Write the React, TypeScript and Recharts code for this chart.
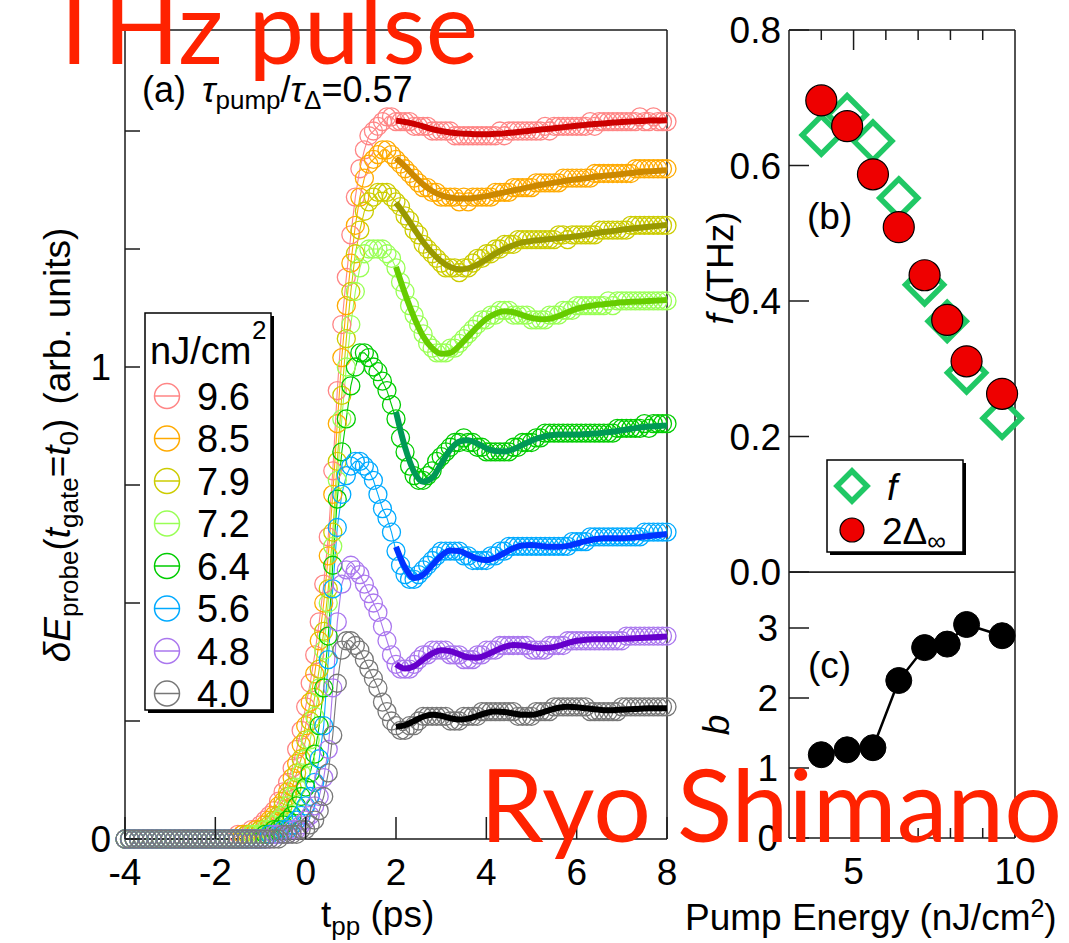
import React from 'react';
import { ComposedChart, Line, Scatter, XAxis, YAxis, ReferenceLine } from 'recharts';

const FONT = '"Liberation Sans", Arial, Helvetica, sans-serif';
const INK = '#1a1a1a';
const RED_TEXT = '#ff2200';

// pump-probe delay grid (ps), one point every 0.1 ps
const times = [
  -4, -3.9, -3.8, -3.7, -3.6, -3.5, -3.4, -3.3, -3.2, -3.1,
  -3, -2.9, -2.8, -2.7, -2.6, -2.5, -2.4, -2.3, -2.2, -2.1,
  -2, -1.9, -1.8, -1.7, -1.6, -1.5, -1.4, -1.3, -1.2, -1.1,
  -1, -0.9, -0.8, -0.7, -0.6, -0.5, -0.4, -0.3, -0.2, -0.1,
  0, 0.1, 0.2, 0.3, 0.4, 0.5, 0.6, 0.7, 0.8, 0.9,
  1, 1.1, 1.2, 1.3, 1.4, 1.5, 1.6, 1.7, 1.8, 1.9,
  2, 2.1, 2.2, 2.3, 2.4, 2.5, 2.6, 2.7, 2.8, 2.9,
  3, 3.1, 3.2, 3.3, 3.4, 3.5, 3.6, 3.7, 3.8, 3.9,
  4, 4.1, 4.2, 4.3, 4.4, 4.5, 4.6, 4.7, 4.8, 4.9,
  5, 5.1, 5.2, 5.3, 5.4, 5.5, 5.6, 5.7, 5.8, 5.9,
  6, 6.1, 6.2, 6.3, 6.4, 6.5, 6.6, 6.7, 6.8, 6.9,
  7, 7.1, 7.2, 7.3, 7.4, 7.5, 7.6, 7.7, 7.8, 7.9,
  8,
];

// fit curves are sampled every 0.2 ps from 2 to 8 ps
const fitTimes = [
  2, 2.2, 2.4, 2.6, 2.8, 3, 3.2, 3.4, 3.6, 3.8,
  4, 4.2, 4.4, 4.6, 4.8, 5, 5.2, 5.4, 5.6, 5.8,
  6, 6.2, 6.4, 6.6, 6.8, 7, 7.2, 7.4, 7.6, 7.8,
  8,
];

const z20 = [0, 0, 0, 0, 0, 0, 0, 0, 0, 0, 0, 0, 0, 0, 0, 0, 0, 0, 0, 0];

const data96 = [
  ...z20,
  0, 0, 0, 0, 0, 0.01, 0.01, 0.01, 0.02, 0.02,
  0.03, 0.04, 0.05, 0.06, 0.08, 0.1, 0.12, 0.15, 0.19, 0.23,
  0.28, 0.33, 0.39, 0.46, 0.54, 0.64, 0.78, 0.95, 1.09, 1.19,
  1.28, 1.36, 1.42, 1.46, 1.49, 1.5, 1.51, 1.52, 1.53, 1.53,
  1.52, 1.52, 1.52, 1.52, 1.51, 1.51, 1.51, 1.51, 1.5, 1.5,
  1.5, 1.5, 1.5, 1.49, 1.49, 1.49, 1.49, 1.49, 1.49, 1.49,
  1.49, 1.49, 1.49, 1.5, 1.49, 1.5, 1.5, 1.5, 1.5, 1.5,
  1.5, 1.5, 1.5, 1.51, 1.5, 1.51, 1.51, 1.51, 1.51, 1.51,
  1.51, 1.51, 1.51, 1.52, 1.51, 1.52, 1.52, 1.52, 1.52, 1.52,
  1.52, 1.52, 1.52, 1.52, 1.53, 1.52, 1.52, 1.53, 1.52, 1.52,
  1.52,
];
const data85 = [
  ...z20,
  0, 0, 0, 0, 0, 0, 0.01, 0.01, 0.01, 0.02,
  0.02, 0.03, 0.04, 0.05, 0.07, 0.08, 0.1, 0.13, 0.16, 0.2,
  0.24, 0.29, 0.35, 0.42, 0.5, 0.6, 0.73, 0.88, 1.02, 1.13,
  1.22, 1.3, 1.36, 1.4, 1.43, 1.44, 1.45, 1.46, 1.46, 1.45,
  1.44, 1.43, 1.42, 1.41, 1.4, 1.39, 1.38, 1.38, 1.37, 1.37,
  1.36, 1.36, 1.36, 1.36, 1.35, 1.36, 1.35, 1.36, 1.36, 1.36,
  1.36, 1.36, 1.37, 1.37, 1.37, 1.37, 1.38, 1.38, 1.38, 1.38,
  1.38, 1.39, 1.39, 1.39, 1.39, 1.39, 1.39, 1.4, 1.4, 1.4,
  1.4, 1.4, 1.4, 1.4, 1.41, 1.41, 1.41, 1.41, 1.41, 1.41,
  1.41, 1.41, 1.41, 1.42, 1.42, 1.42, 1.42, 1.42, 1.42, 1.42,
  1.42,
];
const data79 = [
  ...z20,
  0, 0, 0, 0, 0, 0, 0, 0.01, 0.01, 0.01,
  0.02, 0.02, 0.03, 0.04, 0.05, 0.07, 0.09, 0.11, 0.14, 0.17,
  0.21, 0.25, 0.3, 0.36, 0.44, 0.53, 0.65, 0.8, 0.94, 1.06,
  1.16, 1.24, 1.29, 1.33, 1.35, 1.36, 1.37, 1.37, 1.37, 1.36,
  1.35, 1.34, 1.32, 1.31, 1.29, 1.28, 1.26, 1.25, 1.24, 1.23,
  1.22, 1.21, 1.21, 1.21, 1.2, 1.21, 1.21, 1.22, 1.23, 1.23,
  1.24, 1.24, 1.25, 1.25, 1.26, 1.26, 1.26, 1.27, 1.27, 1.27,
  1.27, 1.27, 1.27, 1.27, 1.27, 1.27, 1.28, 1.28, 1.27, 1.28,
  1.28, 1.28, 1.28, 1.28, 1.28, 1.29, 1.29, 1.29, 1.29, 1.29,
  1.29, 1.29, 1.3, 1.3, 1.3, 1.3, 1.3, 1.3, 1.3, 1.3,
  1.3,
];
const data72 = [
  ...z20,
  0, 0, 0, 0, 0, 0, 0, 0, 0.01, 0.01,
  0.01, 0.02, 0.02, 0.03, 0.04, 0.05, 0.07, 0.09, 0.11, 0.14,
  0.17, 0.21, 0.26, 0.32, 0.4, 0.5, 0.62, 0.76, 0.89, 1,
  1.09, 1.16, 1.21, 1.24, 1.25, 1.25, 1.25, 1.25, 1.24, 1.23,
  1.21, 1.18, 1.16, 1.13, 1.11, 1.09, 1.07, 1.05, 1.04, 1.03,
  1.03, 1.03, 1.04, 1.04, 1.05, 1.06, 1.07, 1.08, 1.09, 1.1,
  1.1, 1.11, 1.11, 1.12, 1.12, 1.12, 1.11, 1.11, 1.11, 1.11,
  1.1, 1.1, 1.1, 1.1, 1.11, 1.11, 1.11, 1.12, 1.12, 1.12,
  1.13, 1.13, 1.13, 1.13, 1.13, 1.13, 1.13, 1.14, 1.13, 1.14,
  1.14, 1.14, 1.14, 1.14, 1.14, 1.14, 1.14, 1.14, 1.14, 1.14,
  1.14,
];
const data64 = [
  ...z20,
  0, 0, 0, 0, 0, 0, 0, 0, 0, 0,
  0, 0.01, 0.01, 0.02, 0.02, 0.03, 0.04, 0.05, 0.07, 0.09,
  0.11, 0.14, 0.18, 0.24, 0.32, 0.43, 0.58, 0.72, 0.82, 0.89,
  0.96, 1, 1.03, 1.03, 1.02, 1, 0.99, 0.97, 0.95, 0.92,
  0.89, 0.85, 0.82, 0.79, 0.77, 0.76, 0.76, 0.77, 0.78, 0.8,
  0.81, 0.82, 0.83, 0.84, 0.84, 0.85, 0.84, 0.84, 0.83, 0.83,
  0.82, 0.82, 0.82, 0.82, 0.82, 0.82, 0.83, 0.83, 0.84, 0.84,
  0.84, 0.85, 0.85, 0.86, 0.86, 0.86, 0.86, 0.86, 0.86, 0.86,
  0.86, 0.86, 0.86, 0.86, 0.86, 0.86, 0.86, 0.86, 0.86, 0.87,
  0.87, 0.87, 0.87, 0.87, 0.87, 0.88, 0.87, 0.88, 0.88, 0.88,
  0.88,
];
const data56 = [
  ...z20,
  0, 0, 0, 0, 0, 0, 0, 0, 0, 0,
  0, 0, 0.01, 0.01, 0.01, 0.02, 0.02, 0.03, 0.04, 0.05,
  0.07, 0.09, 0.12, 0.17, 0.24, 0.38, 0.53, 0.66, 0.73, 0.77,
  0.79, 0.8, 0.8, 0.79, 0.78, 0.76, 0.73, 0.7, 0.68, 0.65,
  0.61, 0.58, 0.56, 0.55, 0.55, 0.56, 0.57, 0.58, 0.59, 0.6,
  0.61, 0.61, 0.61, 0.61, 0.61, 0.6, 0.6, 0.59, 0.59, 0.59,
  0.59, 0.6, 0.6, 0.61, 0.61, 0.62, 0.62, 0.62, 0.62, 0.62,
  0.62, 0.62, 0.62, 0.62, 0.62, 0.62, 0.62, 0.62, 0.62, 0.63,
  0.63, 0.63, 0.63, 0.64, 0.64, 0.64, 0.64, 0.64, 0.64, 0.64,
  0.64, 0.64, 0.64, 0.64, 0.64, 0.65, 0.65, 0.65, 0.65, 0.65,
  0.65,
];
const data48 = [
  ...z20,
  0, 0, 0, 0, 0, 0, 0, 0, 0, 0,
  0, 0, 0, 0.01, 0.01, 0.01, 0.01, 0.02, 0.02, 0.03,
  0.04, 0.05, 0.07, 0.09, 0.13, 0.19, 0.32, 0.46, 0.54, 0.57,
  0.58, 0.57, 0.56, 0.54, 0.52, 0.5, 0.48, 0.45, 0.42, 0.39,
  0.37, 0.36, 0.36, 0.36, 0.37, 0.38, 0.39, 0.39, 0.4, 0.4,
  0.4, 0.4, 0.39, 0.39, 0.39, 0.38, 0.38, 0.38, 0.39, 0.39,
  0.4, 0.4, 0.4, 0.41, 0.41, 0.41, 0.41, 0.41, 0.41, 0.41,
  0.4, 0.4, 0.4, 0.4, 0.41, 0.41, 0.41, 0.41, 0.42, 0.42,
  0.42, 0.42, 0.42, 0.42, 0.42, 0.42, 0.42, 0.42, 0.42, 0.42,
  0.42, 0.43, 0.43, 0.43, 0.43, 0.43, 0.43, 0.43, 0.43, 0.43,
  0.43,
];
const data40 = [
  ...z20,
  0, 0, 0, 0, 0, 0, 0, 0, 0, 0,
  0, 0, 0, 0, 0, 0.01, 0.01, 0.01, 0.01, 0.02,
  0.02, 0.03, 0.04, 0.06, 0.09, 0.14, 0.22, 0.33, 0.4, 0.42,
  0.42, 0.41, 0.4, 0.38, 0.36, 0.34, 0.32, 0.29, 0.27, 0.25,
  0.24, 0.23, 0.23, 0.24, 0.24, 0.25, 0.26, 0.26, 0.26, 0.26,
  0.26, 0.26, 0.25, 0.25, 0.25, 0.26, 0.26, 0.26, 0.26, 0.27,
  0.27, 0.27, 0.27, 0.27, 0.27, 0.27, 0.27, 0.26, 0.26, 0.26,
  0.26, 0.27, 0.27, 0.27, 0.27, 0.28, 0.28, 0.28, 0.28, 0.28,
  0.28, 0.28, 0.28, 0.27, 0.27, 0.27, 0.27, 0.27, 0.27, 0.27,
  0.28, 0.28, 0.28, 0.28, 0.28, 0.28, 0.28, 0.28, 0.28, 0.28,
  0.28,
];

const fit96 = [
  1.522, 1.519, 1.515, 1.51, 1.504, 1.5, 1.497, 1.495, 1.494, 1.493,
  1.493, 1.494, 1.495, 1.497, 1.499, 1.501, 1.503, 1.505, 1.507, 1.509,
  1.511, 1.513, 1.515, 1.516, 1.518, 1.519, 1.52, 1.521, 1.522, 1.522,
  1.523,
];
const fit85 = [
  1.442, 1.425, 1.405, 1.387, 1.373, 1.364, 1.359, 1.357, 1.357, 1.359,
  1.362, 1.366, 1.37, 1.374, 1.378, 1.382, 1.386, 1.389, 1.392, 1.395,
  1.398, 1.4, 1.403, 1.405, 1.407, 1.409, 1.411, 1.413, 1.414, 1.416,
  1.417,
];
const fit79 = [
  1.348, 1.322, 1.293, 1.265, 1.242, 1.224, 1.212, 1.207, 1.209, 1.217,
  1.228, 1.24, 1.25, 1.258, 1.264, 1.267, 1.269, 1.271, 1.273, 1.275,
  1.277, 1.28, 1.283, 1.286, 1.288, 1.291, 1.293, 1.295, 1.297, 1.299,
  1.301,
];
const fit72 = [
  1.212, 1.155, 1.105, 1.065, 1.04, 1.028, 1.03, 1.045, 1.065, 1.085,
  1.102, 1.113, 1.118, 1.116, 1.11, 1.104, 1.101, 1.102, 1.108, 1.116,
  1.123, 1.128, 1.131, 1.133, 1.135, 1.137, 1.138, 1.139, 1.14, 1.141,
  1.142,
];
const fit64 = [
  0.905, 0.83, 0.778, 0.757, 0.765, 0.795, 0.825, 0.842, 0.845, 0.838,
  0.828, 0.822, 0.821, 0.826, 0.835, 0.844, 0.851, 0.855, 0.857, 0.857,
  0.857, 0.858, 0.859, 0.861, 0.863, 0.866, 0.869, 0.872, 0.874, 0.875,
  0.876,
];
const fit56 = [
  0.619, 0.575, 0.553, 0.56, 0.58, 0.6, 0.611, 0.61, 0.602, 0.594,
  0.591, 0.596, 0.606, 0.616, 0.622, 0.623, 0.621, 0.619, 0.619, 0.621,
  0.626, 0.631, 0.635, 0.637, 0.637, 0.637, 0.638, 0.64, 0.642, 0.644,
  0.646,
];
const fit48 = [
  0.37, 0.361, 0.366, 0.38, 0.393, 0.4, 0.398, 0.391, 0.385, 0.384,
  0.39, 0.399, 0.407, 0.411, 0.41, 0.406, 0.404, 0.405, 0.409, 0.415,
  0.42, 0.422, 0.423, 0.423, 0.423, 0.424, 0.425, 0.426, 0.427, 0.428,
  0.429,
];
const fit40 = [
  0.238, 0.241, 0.25, 0.259, 0.263, 0.261, 0.256, 0.253, 0.255, 0.261,
  0.267, 0.27, 0.269, 0.266, 0.263, 0.263, 0.267, 0.273, 0.278, 0.28,
  0.279, 0.277, 0.275, 0.273, 0.273, 0.274, 0.275, 0.276, 0.277, 0.277,
  0.277,
];

const fluences = ['9.6', '8.5', '7.9', '7.2', '6.4', '5.6', '4.8', '4.0'];
const traceValues = [data96, data85, data79, data72, data64, data56, data48, data40];
const fitValues = [fit96, fit85, fit79, fit72, fit64, fit56, fit48, fit40];
const dotColors = ['#ff8585', '#ffaa00', '#cccc00', '#99ff55', '#00cc00', '#00aaff', '#aa77ee', '#777777'];
const fitColors = ['#cc0000', '#cc8800', '#999900', '#66cc00', '#009955', '#0033ff', '#6600cc', '#000000'];

// panels (b) and (c)
const energies = [4.0, 4.8, 5.6, 6.4, 7.2, 7.9, 8.5, 9.6];
const freqF = [0.645, 0.675, 0.636, 0.552, 0.424, 0.37, 0.294, 0.227];
const gap2D = [0.696, 0.658, 0.587, 0.509, 0.438, 0.372, 0.311, 0.263];
const bExp = [1.19, 1.26, 1.29, 2.25, 2.72, 2.77, 3.05, 2.89];

const tTicks = [-4, -2, 0, 2, 4, 6, 8];
const aTicks = [0, 0.25, 0.5, 0.75, 1, 1.25, 1.5];
const fTicks = [0, 0.2, 0.4, 0.6, 0.8];
const bTicks = [0, 1, 2, 3];
const eTicks = [4, 5, 6, 7, 8, 9, 10];

const traces = traceValues.map((vals) => vals.map((v, j) => ({ t: times[j], v })));
const fits = fitValues.map((vals) => vals.map((v, j) => ({ t: fitTimes[j], v })));
const fData = energies.map((e, i) => ({ e, v: freqF[i] }));
const gData = energies.map((e, i) => ({ e, v: gap2D[i] }));
const bData = energies.map((e, i) => ({ e, v: bExp[i] }));

const txt = { fontFamily: FONT, fill: '#000' };

// ---- tick renderers (ticks point inward) ----
const TickABottom = ({ x, y, payload }: any) => (
  <g>
    <line x1={x} x2={x} y1={y} y2={y - 22} stroke={INK} strokeWidth={1.5} />
    <text x={x} y={y + 46} textAnchor="middle" fontSize={37} {...txt}>{payload.value}</text>
  </g>
);
const TickATop = ({ x, y }: any) => (
  <line x1={x} x2={x} y1={y} y2={y + 22} stroke={INK} strokeWidth={1.5} />
);
const TickALeft = ({ x, y, payload }: any) => (
  <g>
    <line x1={x} x2={x + 15} y1={y} y2={y} stroke={INK} strokeWidth={1.5} />
    {(payload.value === 0 || payload.value === 1) && (
      <text x={x - 14} y={y + 13} textAnchor="end" fontSize={37} {...txt}>{payload.value}</text>
    )}
  </g>
);
const TickBLeft = ({ x, y, payload }: any) => (
  <g>
    <line x1={x} x2={x + 20} y1={y} y2={y} stroke={INK} strokeWidth={1.5} />
    <text x={x - 8} y={y + 13} textAnchor="end" fontSize={37} {...txt}>{payload.value.toFixed(1)}</text>
  </g>
);
const TickRight = ({ x, y }: any) => (
  <line x1={x} x2={x - 20} y1={y} y2={y} stroke={INK} strokeWidth={1.5} />
);
const TickBTop = ({ x, y, payload }: any) => (
  <line x1={x} x2={x} y1={y} y2={y + (payload.value === 5 ? 20 : 10)} stroke={INK} strokeWidth={1.5} />
);
const TickCLeft = ({ x, y, payload }: any) => (
  <g>
    <line x1={x} x2={x + 20} y1={y} y2={y} stroke={INK} strokeWidth={1.5} />
    <text x={x - 11} y={y + 13} textAnchor="end" fontSize={37} {...txt}>{payload.value}</text>
  </g>
);
const TickCBottom = ({ x, y, payload }: any) => {
  const major = payload.value === 5 || payload.value === 10;
  return (
    <g>
      <line x1={x} x2={x} y1={y} y2={y - (major ? 20 : 10)} stroke={INK} strokeWidth={1.5} />
      {major && <text x={x} y={y + 46} textAnchor="middle" fontSize={37} {...txt}>{payload.value}</text>}
    </g>
  );
};
const NoTick = () => <g />;

const Diamond = ({ cx, cy, h = 19 }: any) => (
  <path
    d={`M${cx},${cy - h} L${cx + h},${cy} L${cx},${cy + h} L${cx - h},${cy} Z`}
    fill="none"
    stroke="#20c865"
    strokeWidth={5.5}
  />
);
const RedDot = ({ cx, cy }: any) => (
  <circle cx={cx} cy={cy} r={15.5} fill="#ee0000" stroke="#000" strokeWidth={1.2} />
);
const hollowDot = (color: string) => (p: any) => (
  <circle key={p.index} cx={p.cx} cy={p.cy} r={9} fill="none" stroke={color} strokeWidth={1.3} />
);

const axisLine = { stroke: INK, strokeWidth: 1.5 };

export default function App() {
  const aMargin = { top: 0, right: 32, bottom: 0, left: 0 };
  return (
    <div style={{ position: 'absolute', left: 0, top: 0, width: 1069, height: 943, background: '#fff' }}>
      {/* panel (a): measured traces */}
      <div style={{ position: 'absolute', left: 0, top: 0 }}>
        <ComposedChart width={700} height={943} margin={aMargin}>
          <XAxis xAxisId="b" type="number" dataKey="t" domain={[-4, 8]} ticks={tTicks} interval={0}
            orientation="bottom" height={104} tickSize={0} tickMargin={0} tickLine={false}
            axisLine={axisLine} tick={<TickABottom />} />
          <XAxis xAxisId="t" type="number" dataKey="t" domain={[-4, 8]} ticks={tTicks} interval={0}
            orientation="top" height={30} tickSize={0} tickMargin={0} tickLine={false}
            axisLine={axisLine} tick={<TickATop />} />
          <YAxis yAxisId="l" type="number" domain={[0, 1.714]} ticks={aTicks} interval={0}
            width={125} tickSize={0} tickMargin={0} tickLine={false} axisLine={axisLine} tick={<TickALeft />} />
          <YAxis yAxisId="r" orientation="right" type="number" domain={[0, 1.714]} ticks={[]}
            width={1} tickSize={0} tickLine={false} axisLine={axisLine} tick={false} />
          {traces.map((d, i) => (
            <Line key={'d' + i} xAxisId="b" yAxisId="l" data={d} dataKey="v" type="linear"
              stroke={dotColors[i]} strokeWidth={1.1} dot={hollowDot(dotColors[i])}
              activeDot={false} isAnimationActive={false} />
          ))}
        </ComposedChart>
      </div>

      {/* panel (a): fitted curves, same axes, drawn above the traces */}
      <div style={{ position: 'absolute', left: 0, top: 0 }}>
        <ComposedChart width={700} height={943} margin={aMargin}>
          <XAxis xAxisId="b" type="number" dataKey="t" domain={[-4, 8]} ticks={tTicks}
            orientation="bottom" height={104} axisLine={false} tickLine={false} tick={<NoTick />} />
          <XAxis xAxisId="t" type="number" dataKey="t" domain={[-4, 8]} ticks={tTicks}
            orientation="top" height={30} axisLine={false} tickLine={false} tick={<NoTick />} />
          <YAxis yAxisId="l" type="number" domain={[0, 1.714]} ticks={aTicks}
            width={125} axisLine={false} tickLine={false} tick={<NoTick />} />
          <YAxis yAxisId="r" orientation="right" type="number" domain={[0, 1.714]} ticks={[]}
            width={1} axisLine={false} tickLine={false} tick={false} />
          {fits.map((d, i) => (
            <Line key={'f' + i} xAxisId="b" yAxisId="l" data={d} dataKey="v" type="monotone"
              stroke={fitColors[i]} strokeWidth={6} dot={false} activeDot={false} isAnimationActive={false} />
          ))}
        </ComposedChart>
      </div>

      {/* panel (b) */}
      <div style={{ position: 'absolute', left: 700, top: 0 }}>
        <ComposedChart width={369} height={600} margin={{ top: 0, right: 53, bottom: 28, left: 0 }}>
          <XAxis type="number" dataKey="e" domain={[3, 10]} ticks={[4, 5, 6, 7, 8, 9]} interval={0}
            orientation="top" height={30} tickSize={0} tickMargin={0} tickLine={false}
            axisLine={axisLine} tick={<TickBTop />} />
          <YAxis yAxisId="l" type="number" domain={[0, 0.8]} ticks={fTicks} interval={0} width={89}
            tickSize={0} tickMargin={0} tickLine={false} axisLine={axisLine} tick={<TickBLeft />} />
          <YAxis yAxisId="r" orientation="right" type="number" domain={[0, 0.8]} ticks={[0.2, 0.4, 0.6]}
            interval={0} width={1} tickSize={0} tickMargin={0} tickLine={false} axisLine={axisLine}
            tick={<TickRight />} />
          <ReferenceLine yAxisId="l" y={0} stroke={INK} strokeWidth={1.5} />
          <Scatter yAxisId="l" data={fData} dataKey="v" shape={(p: any) => <Diamond cx={p.cx} cy={p.cy} />}
            isAnimationActive={false} />
          <Scatter yAxisId="l" data={gData} dataKey="v" shape={(p: any) => <RedDot cx={p.cx} cy={p.cy} />}
            isAnimationActive={false} />
        </ComposedChart>
      </div>

      {/* panel (c) */}
      <div style={{ position: 'absolute', left: 700, top: 572 }}>
        <ComposedChart width={369} height={371} margin={{ top: 0, right: 53, bottom: 0, left: 0 }}>
          <XAxis type="number" dataKey="e" domain={[3, 10]} ticks={eTicks} interval={0}
            orientation="bottom" height={105} tickSize={0} tickMargin={0} tickLine={false}
            axisLine={axisLine} tick={<TickCBottom />} />
          <YAxis yAxisId="l" type="number" domain={[0, 3.8]} ticks={bTicks} interval={0} width={89}
            tickSize={0} tickMargin={0} tickLine={false} axisLine={axisLine} tick={<TickCLeft />} />
          <YAxis yAxisId="r" orientation="right" type="number" domain={[0, 3.8]} ticks={[1, 2, 3]}
            interval={0} width={1} tickSize={0} tickMargin={0} tickLine={false} axisLine={axisLine}
            tick={<TickRight />} />
          <ReferenceLine yAxisId="l" y={3.8} stroke={INK} strokeWidth={1.5} />
          <Line yAxisId="l" data={bData} dataKey="v" type="linear" stroke="#000" strokeWidth={2.5}
            dot={{ r: 13, fill: '#000', stroke: '#000', strokeWidth: 1 }} activeDot={false}
            isAnimationActive={false} />
        </ComposedChart>
      </div>

      {/* annotations, legends, titles */}
      <svg width={1069} height={943} style={{ position: 'absolute', left: 0, top: 0, pointerEvents: 'none' }}>
        <g fontFamily={FONT} fill="#000">
          {/* legend (a) */}
          <rect x={148} y={316} width={126} height={397} fill="#000" />
          <rect x={145} y={313} width={126} height={397} fill="#fff" stroke="#000" strokeWidth={1.5} />
          <text x={150} y={364} fontSize={38}>nJ/cm</text>
          <text x={252} y={339} fontSize={26}>2</text>
          {fluences.map((f, i) => {
            const cy = 396 + 42.5 * i;
            return (
              <g key={f}>
                <circle cx={167} cy={cy} r={12.5} fill="none" stroke={dotColors[i]} strokeWidth={1.5} />
                <line x1={154.5} x2={179.5} y1={cy} y2={cy} stroke={dotColors[i]} strokeWidth={1.5} />
                <text x={197} y={cy + 13.5} fontSize={38}>{f}</text>
              </g>
            );
          })}

          {/* legend (b) */}
          <rect x={830} y={463} width={136} height={92} fill="#000" />
          <rect x={827} y={460} width={136} height={92} fill="#fff" stroke="#000" strokeWidth={1.5} />
          <Diamond cx={852} cy={486} h={15} />
          <text x={887} y={500} fontSize={37} fontStyle="italic">f</text>
          <circle cx={852} cy={530} r={12} fill="#ee0000" stroke="#000" strokeWidth={1.2} />
          <text x={882} y={544} fontSize={37}>2Δ<tspan fontSize={26} dy={6}>∞</tspan></text>

          {/* panel labels */}
          <text x={142} y={102} fontSize={36}>
            (a)
            <tspan dx={16} fontStyle="italic">τ</tspan>
            <tspan fontSize={26} dy={7}>pump</tspan>
            <tspan dy={-7}>/</tspan>
            <tspan fontStyle="italic">τ</tspan>
            <tspan fontSize={26} dy={7}>Δ</tspan>
            <tspan dy={-7}>=0.57</tspan>
          </text>
          <text x={807} y={229} fontSize={37}>(b)</text>
          <text x={808} y={678} fontSize={37}>(c)</text>

          {/* axis titles */}
          <text transform="rotate(-90 70 445)" x={70} y={445} textAnchor="middle" fontSize={37}>
            <tspan fontStyle="italic">δE</tspan>
            <tspan fontSize={26} dy={8}>probe</tspan>
            <tspan dy={-8}>(</tspan>
            <tspan fontStyle="italic">t</tspan>
            <tspan fontSize={26} dy={8}>gate</tspan>
            <tspan dy={-8}>=</tspan>
            <tspan fontStyle="italic">t</tspan>
            <tspan fontSize={26} dy={8}>0</tspan>
            <tspan dy={-8}>)</tspan>
            <tspan dx={14}>(arb. units)</tspan>
          </text>
          <text transform="rotate(-90 733 268)" x={733} y={268} textAnchor="middle" fontSize={37}>
            <tspan fontStyle="italic">f</tspan> (THz)
          </text>
          <text transform="rotate(-90 729 725)" x={729} y={725} textAnchor="middle" fontSize={37} fontStyle="italic">b</text>
          <text x={321} y={927} fontSize={37}>
            t<tspan fontSize={26} dy={8}>pp</tspan><tspan dy={-8}> (ps)</tspan>
          </text>
          <text x={685} y={930} fontSize={37}>
            Pump Energy (nJ/cm<tspan fontSize={25} dy={-13}>2</tspan><tspan dy={13}>)</tspan>
          </text>
        </g>

        {/* overlay titles */}
        <text x={45} y={64} fontSize={100} fontFamily="Lato, sans-serif" fill={RED_TEXT}
          textLength={433} lengthAdjust="spacingAndGlyphs">THz pulse</text>
        <text x={480} y={842} fontSize={100} fontFamily="Lato, sans-serif" fill={RED_TEXT}
          textLength={582} lengthAdjust="spacingAndGlyphs">Ryo Shimano</text>
      </svg>
    </div>
  );
}
